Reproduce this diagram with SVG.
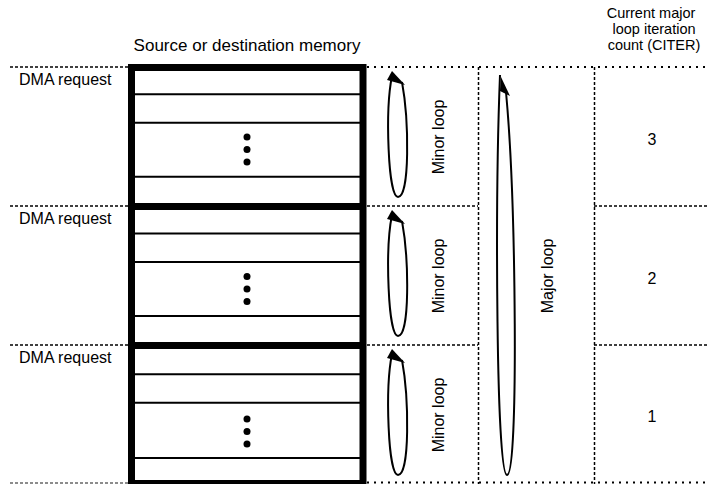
<svg xmlns="http://www.w3.org/2000/svg" width="707" height="484" viewBox="0 0 707 484">
<style>
text{font-family:"Liberation Sans",Arial,sans-serif;font-size:16px;fill:#000}
.hdr{font-size:14.5px}
.dash{stroke:#000;stroke-width:1.5;stroke-dasharray:3 2;fill:none}
.dot{stroke:#000;stroke-width:2;stroke-dasharray:2 5;fill:none}
.thick{stroke:#000;stroke-width:7;fill:none}
.thin{stroke:#000;stroke-width:2;fill:none}
.loop{stroke:#000;stroke-width:2;fill:none}
</style>
<defs>
<g id="minor">
<path class="loop" d="M392,76 C385,110 388,197 398,197 C410,197 409,120 402,82"/>
<polygon points="392,71 387,80 405,85"/>
</g>
<g id="dots">
<circle cx="247" cy="0" r="3.5"/>
<circle cx="247" cy="12.5" r="3.5"/>
<circle cx="247" cy="25" r="3.5"/>
</g>
</defs>
<g id="grid">
<line class="dash" x1="10" y1="67" x2="128" y2="67"/>
<line class="dash" x1="10" y1="206" x2="128" y2="206"/>
<line class="dash" x1="10" y1="345" x2="128" y2="345"/>
<line class="dash" x1="10" y1="483" x2="128" y2="483" stroke-opacity="0.6"/>
<line class="dot" x1="367" y1="67" x2="707" y2="67"/>
<line class="dot" x1="367" y1="482.5" x2="707" y2="482.5"/>
<line class="dash" x1="367" y1="206" x2="478" y2="206"/>
<line class="dash" x1="594" y1="206" x2="707" y2="206"/>
<line class="dash" x1="367" y1="345" x2="478" y2="345"/>
<line class="dash" x1="594" y1="345" x2="707" y2="345"/>
<line class="dash" x1="478.5" y1="67" x2="478.5" y2="484"/>
<line class="dash" x1="594.5" y1="67" x2="594.5" y2="484"/>
</g>
<g id="memory">
<line class="thin" x1="135" y1="94.3" x2="360" y2="94.3"/>
<line class="thin" x1="135" y1="122.7" x2="360" y2="122.7"/>
<line class="thin" x1="135" y1="176.7" x2="360" y2="176.7"/>
<line class="thin" x1="135" y1="233.5" x2="360" y2="233.5"/>
<line class="thin" x1="135" y1="262" x2="360" y2="262"/>
<line class="thin" x1="135" y1="316" x2="360" y2="316"/>
<line class="thin" x1="135" y1="374.3" x2="360" y2="374.3"/>
<line class="thin" x1="135" y1="402.7" x2="360" y2="402.7"/>
<line class="thin" x1="135" y1="458" x2="360" y2="458"/>
<line class="thick" x1="128" y1="206.5" x2="366" y2="206.5"/>
<line class="thick" x1="128" y1="345.5" x2="366" y2="345.5"/>
<rect class="thick" x="131.5" y="67.5" width="231.5" height="416"/>
<use href="#dots" y="137"/>
<use href="#dots" y="276.5"/>
<use href="#dots" y="419"/>
</g>
<g id="minor-loops">
<use href="#minor"/>
<use href="#minor" y="139"/>
<use href="#minor" y="278"/>
</g>
<g id="major-loop">
<path class="loop" d="M500,75 C495,200 496,475 507,475 C519,475 516,200 506,92"/>
<polygon points="501,77 500,91 510,96"/>
</g>
<g id="labels">
<text x="247" y="51" text-anchor="middle" style="font-size:17px">Source or destination memory</text>
<text x="19" y="85">DMA request</text>
<text x="19" y="224">DMA request</text>
<text x="19" y="363">DMA request</text>
<text class="hdr" x="651" y="18" text-anchor="middle">Current major</text>
<text class="hdr" x="654" y="34" text-anchor="middle">loop iteration</text>
<text class="hdr" x="654" y="50" text-anchor="middle">count (CITER)</text>
<text x="652" y="145" text-anchor="middle">3</text>
<text x="652" y="284" text-anchor="middle">2</text>
<text x="652" y="422" text-anchor="middle">1</text>
<text transform="translate(444,137) rotate(-90)" text-anchor="middle">Minor loop</text>
<text transform="translate(444,276) rotate(-90)" text-anchor="middle">Minor loop</text>
<text transform="translate(444,415) rotate(-90)" text-anchor="middle">Minor loop</text>
<text transform="translate(553,276) rotate(-90)" text-anchor="middle">Major loop</text>
</g>
</svg>
